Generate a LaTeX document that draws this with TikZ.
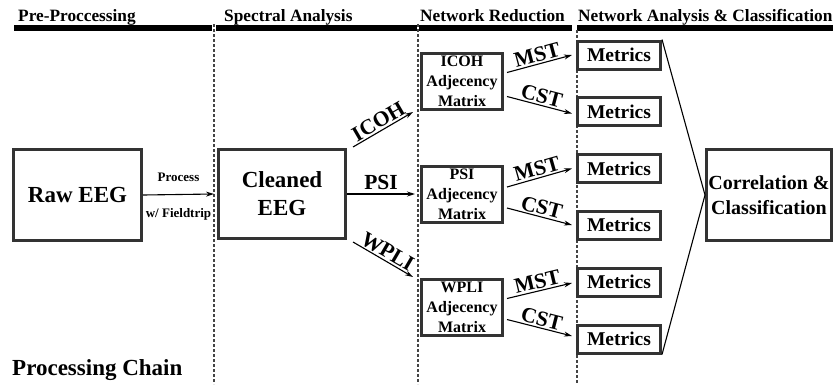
\documentclass[tikz,border=0pt]{standalone}
\usepackage{fontspec}
\setmainfont{Liberation Serif}
\usetikzlibrary{arrows.meta,calc}
\definecolor{boxgray}{HTML}{333333}
\definecolor{dashgray}{HTML}{444444}
\begin{document}
\begin{tikzpicture}[x=1pt,y=-1pt,
  every node/.style={font=\bfseries},
  bigbox/.style={draw=boxgray, line width=3pt, inner sep=0pt, align=center,
    font=\bfseries\fontsize{23}{28}\selectfont},
  adjbox/.style={draw=boxgray, line width=3pt, inner sep=0pt, align=center,
    minimum width=81pt, minimum height=56pt, font=\bfseries\fontsize{16}{20}\selectfont},
  metbox/.style={draw=boxgray, line width=3pt, inner sep=0pt,
    minimum width=83pt, minimum height=28pt, font=\bfseries\fontsize{19.5}{22}\selectfont},
  conn/.style={line width=1.1pt, -{Stealth[length=8pt,width=5pt]}},
  lab/.style={font=\bfseries\fontsize{21.5}{23}\selectfont, inner sep=1.5pt},
  small/.style={font=\bfseries\fontsize{13}{15}\selectfont, inner sep=3pt},
  head/.style={font=\bfseries\fontsize{17.3}{19}\selectfont, anchor=base west, inner sep=0pt},
  sep/.style={draw=dashgray, line width=1.2pt, dash pattern=on 3pt off 2pt}]
\useasboundingbox (0,0) rectangle (835,384);

% headers
\node[head] (h1) at (18,21) {Pre-Proccessing};
\node[head] (h2) at (224,21) {Spectral Analysis};
\node[head] (h3) at (420,21) {Network Reduction};
\node[head] (h4) at (578,21) {Network Analysis \& Classification};
\fill (14,24.5) rectangle (212,30.5);
\fill (216,24.5) rectangle (417,30.5);
\fill (419,24.5) rectangle (572,30.5);
\fill (577,24.5) rectangle (833,30.5);

% separators
\draw[sep] (214,24) -- (214,384);
\draw[sep] (418,24) -- (418,384);
\draw[sep] (577,30) -- (577,384);

% boxes
\node[bigbox, minimum width=128pt, minimum height=91pt] (raw) at (77.5,195) {Raw EEG};
\node[bigbox, minimum width=127pt, minimum height=89pt] (clean) at (282,194) {Cleaned\\EEG};
\node[adjbox] (icoh) at (462,81.5) {ICOH\\Adjecency\\Matrix};
\node[adjbox] (psi) at (462,194) {PSI\\Adjecency\\Matrix};
\node[adjbox] (wpli) at (462,307.5) {WPLI\\Adjecency\\Matrix};
\node[metbox] (m1) at (619,55) {Metrics};
\node[metbox] (m2) at (619,111.5) {Metrics};
\node[metbox] (m3) at (619,168.5) {Metrics};
\node[metbox] (m4) at (619,225) {Metrics};
\node[metbox] (m5) at (619,282) {Metrics};
\node[metbox] (m6) at (619,339) {Metrics};
\node[bigbox, minimum width=125pt, minimum height=91pt,
  font=\bfseries\fontsize{20}{25}\selectfont] (corr) at (769,195) {Correlation \&\\Classification};

% connectors
\draw[conn] (raw.east) -- node[small, above=9pt] {Process} node[small, below=10pt] {w/ Fieldtrip} ($(clean.west)+(-3,0)$);
\draw[conn] ($(clean.north east)+(6,-1)$) -- node[lab, sloped, above] {ICOH} ($(icoh.south west)+(-7,1)$);
\draw[conn] (clean.east) -- node[lab, above=2pt] {PSI} ($(psi.west)+(-5,0)$);
\draw[conn] ($(clean.south east)+(6,2)$) -- node[lab, sloped, above] {WPLI} ($(wpli.north west)+(-7,-1)$);

\draw[conn] ($(icoh.east)+(3,-9)$) -- node[lab, sloped, above] {MST} ($(m1.west)+(-4,0)$);
\draw[conn] ($(icoh.east)+(3,15)$) -- node[lab, sloped, above] {CST} ($(m2.west)+(-4,2)$);
\draw[conn] ($(psi.east)+(3,-7)$) -- node[lab, sloped, above] {MST} ($(m3.west)+(-4,0)$);
\draw[conn] ($(psi.east)+(3,14)$) -- node[lab, sloped, above] {CST} ($(m4.west)+(-4,0)$);
\draw[conn] ($(wpli.east)+(3,-9)$) -- node[lab, sloped, above] {MST} ($(m5.west)+(-4,1)$);
\draw[conn] ($(wpli.east)+(3,12)$) -- node[lab, sloped, above] {CST} ($(m6.west)+(-4,-3)$);

\draw[line width=1.1pt] (m1.north east) -- (corr.west) -- (m6.south east);

\node[font=\bfseries\fontsize{23}{25}\selectfont, anchor=base west, inner sep=0pt] (title) at (12,375) {Processing Chain};
\end{tikzpicture}
\end{document}
